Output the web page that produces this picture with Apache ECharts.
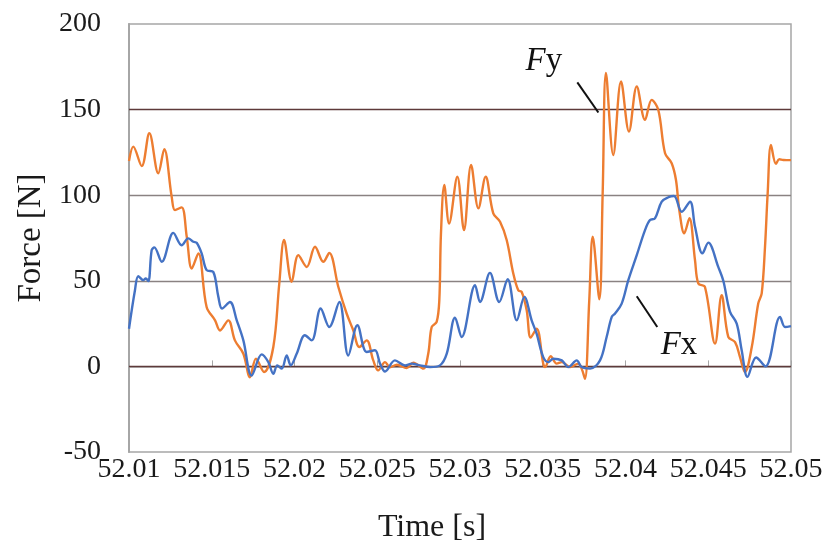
<!DOCTYPE html>
<html>
<head>
<meta charset="utf-8">
<script src="https://cdn.jsdelivr.net/npm/echarts@6/dist/echarts.min.js"></script>
<style>
  html, body { margin: 0; padding: 0; background: #fff; }
  #chart { width: 830px; height: 552px; }
</style>
</head>
<body>
<div id="chart"></div>
<script>
// Axis ranges and tick steps
const timeMin = 52.01, timeMax = 52.05, timeStep = 0.005;
const forceMin = -50, forceMax = 200, forceStep = 50;

// Horizontal reference lines (force levels) and their shades
const gridLevels = [0, 50, 100, 150];
const gridShades = ['#5e3a3a', '#8a8282', '#8a8282', '#5e3a3a'];

// Fy: time [s] and force [N]
const fyTime = [
  52.01000, 52.01026, 52.01077, 52.01123, 52.01177, 52.01213, 52.01258, 52.01278,
  52.01318, 52.01349, 52.01379, 52.01419, 52.01469, 52.01520, 52.01550, 52.01600,
  52.01640, 52.01691, 52.01731, 52.01767, 52.01816, 52.01872, 52.01908, 52.01937,
  52.01983, 52.02023, 52.02074, 52.02124, 52.02174, 52.02210, 52.02265, 52.02315,
  52.02355, 52.02392, 52.02436, 52.02476, 52.02506, 52.02547, 52.02577, 52.02619,
  52.02678, 52.02718, 52.02778, 52.02808, 52.02829, 52.02859, 52.02875, 52.02885,
  52.02905, 52.02934, 52.02984, 52.03024, 52.03067, 52.03111, 52.03155, 52.03201,
  52.03242, 52.03282, 52.03322, 52.03352, 52.03373, 52.03403, 52.03427, 52.03463,
  52.03503, 52.03514, 52.03548, 52.03584, 52.03615, 52.03665, 52.03715, 52.03735,
  52.03755, 52.03781, 52.03802, 52.03842, 52.03862, 52.03882, 52.03926, 52.03973,
  52.04021, 52.04068, 52.04118, 52.04158, 52.04198, 52.04239, 52.04279, 52.04305,
  52.04325, 52.04355, 52.04386, 52.04420, 52.04440, 52.04480, 52.04541, 52.04581,
  52.04621, 52.04662, 52.04692, 52.04722, 52.04763, 52.04802, 52.04823, 52.04843,
  52.04859, 52.04879, 52.04909, 52.04929, 52.04954, 52.05000
];
const fyForce = [
  120, 128.4, 117, 136.2, 112.8, 126.9, 99, 91.3,
  92.9, 75.7, 57.2, 66, 34.7, 26.9, 21, 26.9,
  15.2, 7.4, -6.3, 4.5, -3.3, 11.3, 48.4, 73.8,
  49.4, 65, 58.1, 69.9, 61.1, 66.3, 46.4, 30.9,
  21.1, 11.3, 15.2, 3.5, -2.3, 2.5, -0.5, 1,
  -1, 2.2, -1.3, 7.4, 23, 26, 38.6, 77.7,
  106, 83.5, 110.8, 79.6, 117.7, 92.3, 110.8, 89.4,
  84.5, 73.8, 54.3, 44.5, 43.5, 32.8, 16.8, 22,
  1.6, -0.4, 5.9, 1.6, 2.5, -0.4, 1.6, -1.3,
  -7.2, 38.6, 75.7, 39.2, 101, 171.4, 123.5, 166.5,
  137.2, 163.5, 144, 155.7, 149.9, 124.5, 118.7, 108.9,
  91.3, 77.7, 86.5, 62, 48.4, 46.4, 13.3, 41.6,
  17.2, 14.2, 5.4, -3.3, 11.3, 36.7, 42.6, 69.9,
  101, 129.4, 118.3, 121, 120.6, 120.5
];

// Fx: time [s] and force [N]
const fxTime = [
  52.01000, 52.01036, 52.01056, 52.01086, 52.01101, 52.01117, 52.01137, 52.01153,
  52.01198, 52.01268, 52.01318, 52.01358, 52.01389, 52.01409, 52.01439, 52.01469,
  52.01509, 52.01540, 52.01562, 52.01610, 52.01651, 52.01691, 52.01741, 52.01802,
  52.01842, 52.01872, 52.01896, 52.01923, 52.01953, 52.01977, 52.02013, 52.02063,
  52.02104, 52.02158, 52.02210, 52.02271, 52.02325, 52.02380, 52.02436, 52.02486,
  52.02517, 52.02547, 52.02607, 52.02668, 52.02708, 52.02758, 52.02819, 52.02879,
  52.02920, 52.02970, 52.03010, 52.03091, 52.03121, 52.03181, 52.03237, 52.03288,
  52.03343, 52.03389, 52.03433, 52.03463, 52.03503, 52.03534, 52.03564, 52.03615,
  52.03654, 52.03705, 52.03735, 52.03786, 52.03846, 52.03886, 52.03917, 52.03937,
  52.03977, 52.04017, 52.04068, 52.04118, 52.04148, 52.04178, 52.04219, 52.04259,
  52.04293, 52.04340, 52.04390, 52.04420, 52.04465, 52.04500, 52.04561, 52.04591,
  52.04631, 52.04672, 52.04702, 52.04737, 52.04789, 52.04846, 52.04934, 52.04964,
  52.05000
];
const fxForce = [
  22, 44.5, 52.7, 50.4, 51.3, 49.9, 67.9, 69.5,
  61.1, 78, 70.8, 74.8, 72.8, 72.2, 66, 56.2,
  55.2, 40.6, 33.8, 37.6, 26.9, 15.2, -5.3, 7,
  2.5, -4.3, 0.6, -1.3, 6.4, 0.6, 7.4, 18.2,
  15.2, 33.8, 23, 37.6, 6.4, 24, 8.4, 9.4,
  1.6, -3, 3.5, 0.6, 1.6, 0.6, -0.4, 0.6,
  7.4, 28.5, 17.2, 47.4, 37.6, 54.6, 37.6, 50.9,
  26.9, 40.6, 26.9, 19.1, 5.4, 2.5, 4.5, 3.5,
  -0.4, 3.5, -0.4, -1.3, 3.5, 17.2, 28.9, 30.9,
  36.7, 50.4, 65, 79.6, 85.5, 86.5, 96.2, 98.8,
  99.5, 90.3, 96.2, 81.6, 66, 72.3, 58, 50,
  32, 25, 9.4, -6.1, 5.2, 0, 28.9, 23,
  23.5
];

// Callout anchors in data space: text position, leader start, leader end
const fyCallout = { text: [52.03507, 178], from: [52.03709, 165.9], to: [52.03836, 148.3] };
const fxCallout = { text: [52.04323, 12.3], from: [52.04068, 41], to: [52.04192, 23] };

const pair = (ts, vs) => ts.map((t, i) => [t, vs[i]]);

const serif = '"Liberation Serif", "DejaVu Serif", serif';
const frameColor = '#a6a6a6';

const chart = echarts.init(document.getElementById('chart'), null, { renderer: 'canvas' });

chart.setOption({
  animation: false,
  backgroundColor: '#ffffff',
  grid: {
    left: 129, top: 24, right: 39, bottom: 100,
    containLabel: false, outerBoundsMode: 'none',
    show: true, borderColor: frameColor, borderWidth: 1.5, backgroundColor: 'transparent'
  },
  xAxis: {
    type: 'value',
    min: timeMin, max: timeMax, interval: timeStep,
    name: 'Time [s]', nameLocation: 'middle', nameGap: 60,
    nameTextStyle: { fontFamily: serif, fontSize: 32, color: '#1a1a1a', padding: [0, 56, 0, 0] },
    axisLine: { show: true, lineStyle: { color: frameColor, width: 1.5 } },
    axisTick: { show: true, inside: true, length: 6, lineStyle: { color: frameColor, width: 1 } },
    axisLabel: {
      fontFamily: serif, fontSize: 28, color: '#1a1a1a', margin: 4,
      formatter: v => String(parseFloat(v.toFixed(3)))
    },
    splitLine: { show: false }
  },
  yAxis: {
    type: 'value',
    min: forceMin, max: forceMax, interval: forceStep,
    name: 'Force [N]', nameLocation: 'middle', nameGap: 80, nameRotate: 90,
    nameTextStyle: { fontFamily: serif, fontSize: 33, color: '#1a1a1a' },
    axisLine: { show: true, lineStyle: { color: frameColor, width: 2 } },
    axisTick: { show: false },
    axisLabel: { fontFamily: serif, fontSize: 28, color: '#1a1a1a', margin: 28 },
    splitLine: { show: false }
  },
  series: [
    {
      name: 'Fy', type: 'line', data: pair(fyTime, fyForce),
      smooth: 0.35, symbol: 'none',
      lineStyle: { color: '#ED7D31', width: 2.4 }, z: 3,
      markLine: {
        silent: true, symbol: 'none', z: 1, animation: false,
        label: { show: false },
        data: gridLevels.map((v, i) => ({
          yAxis: v,
          lineStyle: { color: gridShades[i], width: 1.3, type: 'solid' }
        }))
      }
    },
    {
      name: 'Fx', type: 'line', data: pair(fxTime, fxForce),
      smooth: 0.35, symbol: 'none',
      lineStyle: { color: '#4472C4', width: 2.4 }, z: 4
    }
  ]
});

// Callout labels with leader lines, placed through the chart's own coordinate system
function callout(c, sub) {
  const p = chart.convertToPixel({ gridIndex: 0 }, c.text);
  const a = chart.convertToPixel({ gridIndex: 0 }, c.from);
  const b = chart.convertToPixel({ gridIndex: 0 }, c.to);
  return [
    {
      type: 'line',
      shape: { x1: a[0], y1: a[1], x2: b[0], y2: b[1] },
      style: { stroke: '#111', lineWidth: 2 }, z: 10
    },
    {
      type: 'text', x: p[0], y: p[1], z: 10,
      style: {
        text: '{i|F}{r|' + sub + '}',
        align: 'center', verticalAlign: 'middle',
        rich: {
          i: { fontFamily: serif, fontStyle: 'italic', fontSize: 33, fill: '#111' },
          r: { fontFamily: serif, fontSize: 33, fill: '#111' }
        }
      }
    }
  ];
}

chart.setOption({ graphic: [...callout(fyCallout, 'y'), ...callout(fxCallout, 'x')] });
</script>
</body>
</html>
